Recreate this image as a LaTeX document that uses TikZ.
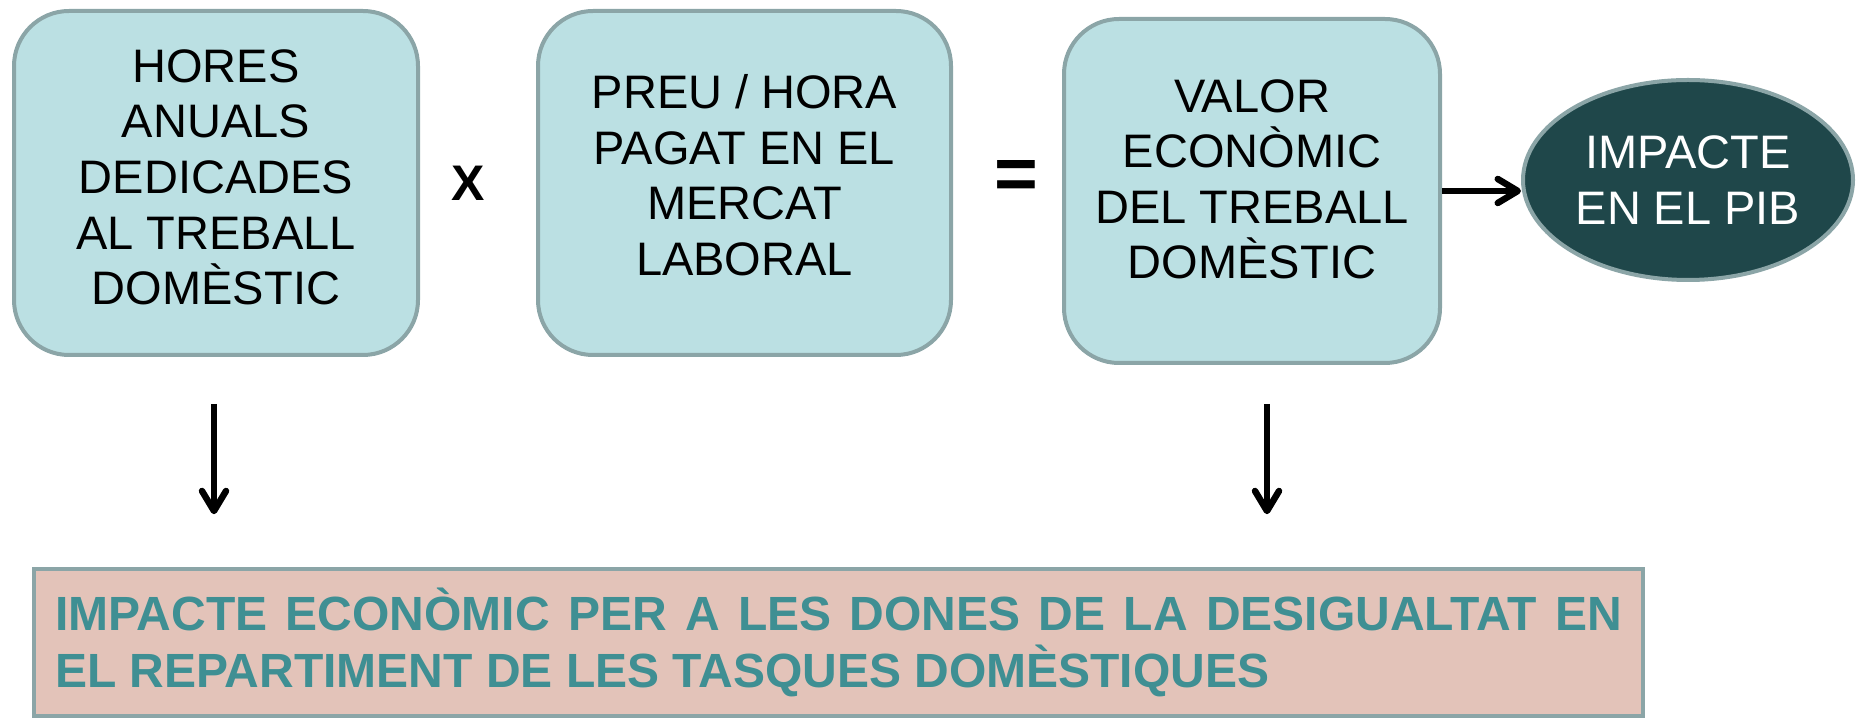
\documentclass[tikz,border=0pt]{standalone}
\usepackage{fontspec}
\setmainfont{Liberation Sans}
\usetikzlibrary{arrows.meta,shapes.geometric}

\definecolor{boxfill}{HTML}{BBE0E3}
\definecolor{boxline}{HTML}{8BA5A7}
\definecolor{pibfill}{HTML}{1F474A}
\definecolor{donesfill}{HTML}{E3C3B9}
\definecolor{donestext}{HTML}{3F8F93}

\tikzset{
    factor/.style={draw=boxline, fill=boxfill, line width=4pt, rounded corners=55pt,
        minimum height=344pt, inner sep=0pt, align=center,
        font=\fontsize{47}{55.6}\selectfont},
    pibnode/.style={ellipse, draw=boxline, fill=pibfill, line width=4pt,
        minimum width=330pt, minimum height=200pt, inner sep=0pt, align=center,
        text=white, font=\fontsize{47}{55.6}\selectfont},
    donesbox/.style={draw=boxline, fill=donesfill, line width=3.5pt,
        minimum width=1609pt, minimum height=147pt, inner sep=0pt,
        text width=1567pt, align=justify, text=donestext,
        font=\bfseries\fontsize{48}{57}\selectfont},
    sign/.style={font=\bfseries\fontsize{#1}{#1}\selectfont},
    arr/.style={line width=6.5pt, -{Straight Barb[length=20pt,width=24pt,round]}}
}

\begin{document}
\begin{tikzpicture}[x=1pt, y=1pt]
        \useasboundingbox (0,0) rectangle (1856,720);

        % Top row of factors
        \node[factor, minimum width=404pt, text depth=12pt] (hores) at (216,537)
            {HORES\\ANUALS\\DEDICADES\\AL TREBALL\\DOMÈSTIC};
        \node[factor, minimum width=413pt, text depth=16pt] (preu) at (744.5,537)
            {PREU / HORA\\PAGAT EN EL\\MERCAT\\LABORAL};
        \node[factor, minimum width=376pt, text depth=24pt] (valor) at (1252,529)
            {VALOR\\ECONÒMIC\\DEL TREBALL\\DOMÈSTIC};
        \node[pibnode] (pib) at (1688,540) {IMPACTE\\EN EL PIB};

        % Operators
        \node[sign=50] (times) at (468,537) {X};
        \node[sign=75] (equals) at (1016,540) {=};

        % Bottom box
        \node[donesbox] (dones) at (838.5,77.5)
            {IMPACTE ECONÒMIC PER A LES DONES DE LA DESIGUALTAT EN\linebreak
             EL REPARTIMENT DE LES TASQUES DOMÈSTIQUES};

        % Arrows
        \draw[arr] (valor.east) -- (valor.east -| pib.west);
        \foreach \n/\dx/\gap in {hores/-2/47, valor/15/39}{
            \draw[arr, shorten <=\gap pt, shorten >=53pt]
                ([xshift=\dx pt]\n.south) -- ([xshift=\dx pt]\n.south |- dones.north);
        }

    \end{tikzpicture}
\end{document}
